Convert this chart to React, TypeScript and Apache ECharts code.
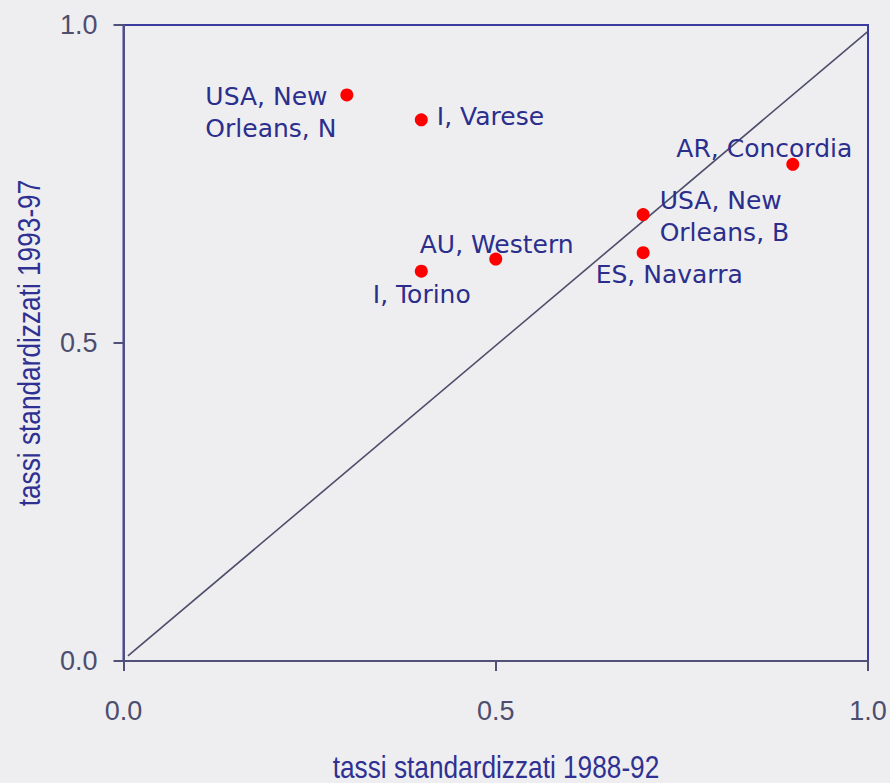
import React, { useEffect, useRef } from "react";
import * as echarts from "echarts";

const pointNames = [
  "USA, New\nOrleans, N",
  "I, Varese",
  "AU, Western",
  "I, Torino",
  "AR, Concordia",
  "USA, New\nOrleans, B",
  "ES, Navarra",
];
const rates1988_92 = [0.3, 0.4, 0.5, 0.4, 0.899, 0.698, 0.698];
const rates1993_97 = [0.89, 0.851, 0.632, 0.613, 0.781, 0.702, 0.642];
const diagonalX = [0.006, 1.0];
const diagonalY = [0.008, 0.99];
const axisTicks = [0, 0.5, 1.0];
const xTitle = "tassi standardizzati 1988-92";
const yTitle = "tassi standardizzati 1993-97";

// label placement (style, relative to each dot's box)
const labelOffsets: [number, number][] = [
  [-135, -7.5],
  [22, -12.5],
  [-69.5, -24],
  [-42, 14],
  [-110, -25.5],
  [23, -24],
  [-41, 12.5],
];

export default function App() {
  const ref = useRef<HTMLDivElement>(null);
  useEffect(() => {
    if (!ref.current) return;
    const chart = echarts.init(ref.current, undefined, { renderer: "svg" });
    const tickFont = {
      fontFamily: "'Liberation Sans', Arial, sans-serif",
      fontSize: 27,
      color: "#4d4d6e",
    };
    const titleStyle = {
      fill: "#2e3192",
      font: "32px 'Liberation Sans', Arial, sans-serif",
      align: "center",
      verticalAlign: "middle",
    };
    const axisLineStyle = { color: "#505078", width: 2 };
    chart.setOption({
      animation: false,
      backgroundColor: "#eeeef1",
      grid: {
        left: 123.5,
        top: 25,
        right: 22,
        bottom: 122,
        outerBoundsMode: "none",
        containLabel: false,
        show: true,
        borderColor: "#3a3aa0",
        borderWidth: 2,
        backgroundColor: "transparent",
      },
      graphic: [
        {
          type: "text",
          x: 496,
          y: 767,
          scaleX: 0.82,
          style: { ...titleStyle, text: xTitle },
        },
        {
          type: "text",
          x: 29,
          y: 343,
          rotation: Math.PI / 2,
          scaleX: 0.82,
          style: { ...titleStyle, text: yTitle },
        },
      ],
      xAxis: {
        type: "value",
        min: axisTicks[0],
        max: axisTicks[axisTicks.length - 1],
        interval: 0.5,
        axisLine: { show: true, onZero: false, lineStyle: axisLineStyle },
        axisTick: { show: true, inside: false, length: 10, lineStyle: axisLineStyle },
        axisLabel: { ...tickFont, margin: 36, formatter: (v: number) => v.toFixed(1) },
        splitLine: { show: false },
      },
      yAxis: {
        type: "value",
        min: axisTicks[0],
        max: axisTicks[axisTicks.length - 1],
        interval: 0.5,
        axisLine: { show: true, onZero: false, lineStyle: axisLineStyle },
        axisTick: { show: true, inside: false, length: 10, lineStyle: axisLineStyle },
        axisLabel: { ...tickFont, margin: 26, formatter: (v: number) => v.toFixed(1) },
        splitLine: { show: false },
      },
      series: [
        {
          type: "line",
          data: diagonalX.map((x, i) => [x, diagonalY[i]]),
          showSymbol: false,
          symbol: "none",
          silent: true,
          lineStyle: { color: "#4d4d6b", width: 1.6 },
          z: 1,
        },
        {
          type: "scatter",
          symbol: "circle",
          symbolSize: 13,
          itemStyle: { color: "#ff0000", opacity: 1 },
          z: 3,
          data: pointNames.map((n, i) => ({
            name: n,
            value: [rates1988_92[i], rates1993_97[i]],
            label: {
              show: true,
              formatter: n,
              position: labelOffsets[i],
              align: "left",
              verticalAlign: "top",
              fontFamily: "'DejaVu Sans', sans-serif",
              fontSize: 25,
              lineHeight: 32,
              color: "#2b2e8c",
            },
          })),
        },
      ],
    });
    return () => chart.dispose();
  }, []);
  return (
    <div
      ref={ref}
      style={{ position: "fixed", left: 0, top: 0, width: 890, height: 783 }}
    />
  );
}
